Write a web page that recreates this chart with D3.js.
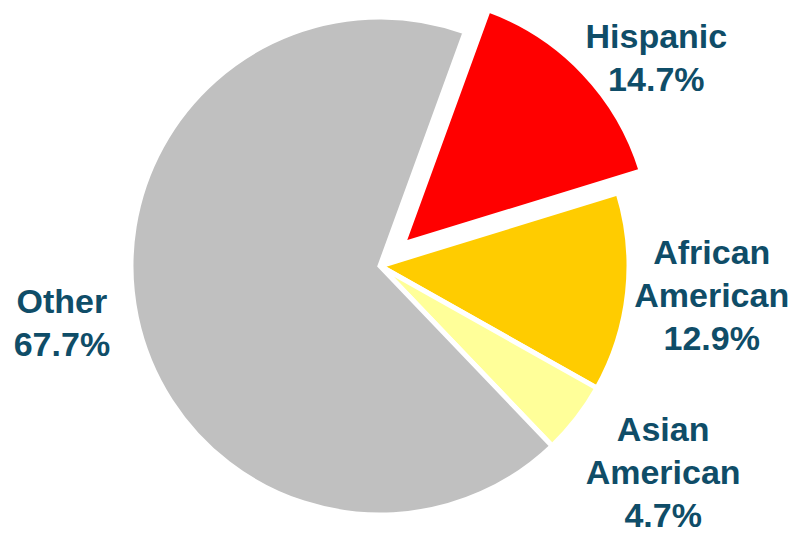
<!DOCTYPE html>
<html lang="en">
<head>
  <meta charset="UTF-8" />
  <title>Population share pie</title>
  <script src="https://d3js.org/d3.v7.min.js"></script>
  <style>
    body {
      margin: 0;
      background: white;
    }
    svg {
      display: block;
    }
    .slice-label {
      font-family: "Liberation Sans", Arial, sans-serif;
      font-weight: bold;
      font-size: 34px;
      fill: #0f4d68;
      text-anchor: middle;
    }
  </style>
</head>
<body>
<svg id="chart"></svg>
<script>
// Data
const categories = ["Hispanic", "African American", "Asian American", "Other"];
const shares = [14.7, 12.9, 4.7, 67.7];
const colors = ["#ff0000", "#ffcc00", "#ffff99", "#c0c0c0"];
const labelLines = [["Hispanic"], ["African", "American"], ["Asian", "American"], ["Other"]];
const exploded = ["Hispanic"];

// Config
const width = 795, height = 533;
const cx = 380, cy = 266;
const radius = 249;
const explodeBy = 32;
const startAngle = 20 * Math.PI / 180;
const lineHeight = 43;

// label placement: [angle in degrees, distance from centre] per category
const labelPlace = {
  "Hispanic": [53, 346],
  "African American": [95, 333],
  "Asian American": [126, 350],
  "Other": [260, 323]
};

const svg = d3.select("#chart").attr("width", width).attr("height", height);
const g = svg.append("g").attr("transform", `translate(${cx},${cy})`);

const rows = categories.map((c, i) => ({ name: c, value: shares[i], color: colors[i], lines: labelLines[i] }));

const pie = d3.pie()
  .value(d => d.value)
  .sort(null)
  .startAngle(startAngle)
  .endAngle(startAngle + 2 * Math.PI);

const arc = d3.arc().innerRadius(0).outerRadius(radius);
const arcs = pie(rows);

function offset(d) {
  if (!exploded.includes(d.data.name)) return [0, 0];
  const mid = (d.startAngle + d.endAngle) / 2;
  return [Math.sin(mid) * explodeBy, -Math.cos(mid) * explodeBy];
}

g.selectAll("path.slice")
  .data(arcs)
  .join("path")
  .attr("class", "slice")
  .attr("transform", d => `translate(${offset(d)})`)
  .attr("d", arc)
  .attr("fill", d => d.data.color)
  .attr("stroke", "white")
  .attr("stroke-width", 5)
  .attr("stroke-linejoin", "miter");

const labels = g.selectAll("text.slice-label")
  .data(arcs)
  .join("text")
  .attr("class", "slice-label")
  .attr("transform", d => {
    const [deg, r] = labelPlace[d.data.name];
    const a = deg * Math.PI / 180;
    return `translate(${Math.sin(a) * r},${-Math.cos(a) * r})`;
  });

labels.each(function (d) {
  const lines = d.data.lines.concat([d.data.value.toFixed(1) + "%"]);
  const top = -(lines.length - 1) * lineHeight / 2 + 12;
  d3.select(this).selectAll("tspan")
    .data(lines)
    .join("tspan")
    .attr("x", 0)
    .attr("y", (t, i) => top + i * lineHeight)
    .text(t => t);
});
</script>
</body>
</html>
